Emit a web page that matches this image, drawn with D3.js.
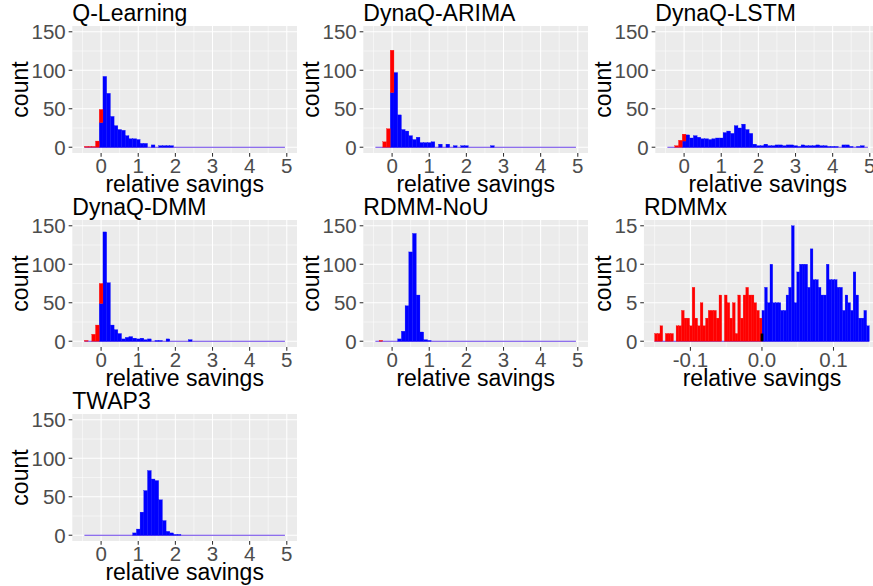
<!DOCTYPE html>
<html><head><meta charset="utf-8">
<script src="https://cdn.jsdelivr.net/npm/d3@7"></script>
<style>body{margin:0;background:#fff} svg{display:block}</style>
</head><body>
<svg id="c" width="873" height="586"></svg>
<script>
// ---------- data ----------
const titles = ["Q-Learning","DynaQ-ARIMA","DynaQ-LSTM","DynaQ-DMM","RDMM-NoU","RDMMx","TWAP3"];
const xLabel = "relative savings";
const yLabel = "count";

// bins of width 0.1, first bin centred at -0.4 (k = -4 .. 49)
const binWidthMain = 0.1;
const binStartMain = -0.45;
const qlBlue = [0,0,0,0,32,92,70,40,28,23,22,15,11,11,10,5,5,0,3,0,2,2,2,2,0,0,0,0,0,0,0,0,0,0,0,0,0,0,0,0,0,0,0,0,0,0,0,0,0,0,0,0,0,0];
const qlRed  = [1,1,1,8,17];
const arimaBlue = [0,0,0,0,71,97,42,23,21,15,10,13,6,6,6,7,0,4,0,4,0,2,0,2,2,0,0,0,0,0,0,2,0,0,0,0,0,0,0,0,0,0,0,0,0,0,0,0,0,0,0,0,0,0];
const arimaRed  = [0,0,7,24,55];
const lstmBlue = [0,0,0,0,8,16,12,15,13,11,11,10,11,12,12,19,21,18,28,25,30,23,18,4,2,2,4,2,2,3,3,2,3,3,2,1,3,2,2,2,3,2,2,1,1,1,0,3,3,1,0,1,2,0];
const lstmRed  = [0,0,2,9,9];
const dmmBlue = [0,0,0,0,49,142,76,21,15,10,3,5,6,4,3,4,2,3,0,1,1,0,3,0,0,0,0,0,2,0,0,0,0,0,0,0,0,0,0,0,0,0,0,0,0,0,0,0,0,0,0,0,0,0];
const dmmRed  = [1,0,9,21,26];
const nouBlue = [0,0,0,0,0,0,3,13,46,116,140,60,12,2,1,0,0,0,0,0,0,0,0,0,0,0,0,0,0,0,0,0,0,0,0,0,0,0,0,0,0,0,0,0,0,0,0,0,0,0,0,0,0,0];
const nouRed  = [0,1];
const twapBlue = [0,0,0,0,0,0,0,0,0,0,0,0,0,3,8,30,58,84,73,71,46,19,5,3,1,1,0,0,0,0,0,0,0,0,0,0,0,0,0,0,0,0,0,0,0,0,0,0,0,0,0,0,0,0];
const twapRed  = [];

// RDMMx: narrow bins, negatives red, positives blue, one exact-zero value black
const rdmmxBinWidth = 0.00375;
const rdmmxRedStart = -0.15;
const rdmmxBlueStart = 0;
const rdmmxRed  = [1,1,2,0,1,1,1,0,2,2,4,3,3,2,7,3,2,5,2,3,4,4,4,3,6,0,6,5,3,5,1,6,3,6,7,6,6,5,4,3];
const rdmmxBlue = [4,7,5,10,5,5,5,4,4,6,7,15,5,9,10,10,10,7,12,8,8,7,6,6,10,8,8,8,7,7,4,6,5,4,9,6,3,3,4,2];
const rdmmxZeroX = [0];
const rdmmxZeroCount = [1];

const xLimMain = [-0.5, 5], yLimMain = [0, 150];
const xLimR = [-0.15, 0.15], yLimR = [0, 15];
const xTicksMain = [0,1,2,3,4,5], yTicksMain = [0,50,100,150];
const xTicksR = [-0.1, 0.0, 0.1], xTickLabelsR = ["-0.1","0.0","0.1"], yTicksR = [0,5,10,15];

// ---------- layout ----------
const rowTop = [26, 220, 414];
const panelH = 127;
const colLeft = [0, 291, 583];
const panelRightOff = 297;
const FONT = "'Liberation Sans', Arial, Helvetica, sans-serif";
const tickFont = 20.5, titleFont = 23;

const panels = [
  {t:0, r:0, c:0, blue:qlBlue, red:qlRed, bs:binStartMain, rs:binStartMain, w:binWidthMain},
  {t:1, r:0, c:1, blue:arimaBlue, red:arimaRed, bs:binStartMain, rs:binStartMain, w:binWidthMain},
  {t:2, r:0, c:2, blue:lstmBlue, red:lstmRed, bs:binStartMain, rs:binStartMain, w:binWidthMain},
  {t:3, r:1, c:0, blue:dmmBlue, red:dmmRed, bs:binStartMain, rs:binStartMain, w:binWidthMain},
  {t:4, r:1, c:1, blue:nouBlue, red:nouRed, bs:binStartMain, rs:binStartMain, w:binWidthMain},
  {t:5, r:1, c:2, blue:rdmmxBlue, red:rdmmxRed, bs:rdmmxBlueStart, rs:rdmmxRedStart, w:rdmmxBinWidth, rdmmx:true},
  {t:6, r:2, c:0, blue:twapBlue, red:twapRed, bs:binStartMain, rs:binStartMain, w:binWidthMain},
];

const svg = d3.select("#c");
svg.append("rect").attr("width",873).attr("height",586).attr("fill","#fff");

function measure(txt, size){
  const t = svg.append("text").attr("font-family",FONT).attr("font-size",size).text(txt);
  const w = t.node().getComputedTextLength(); t.remove(); return w;
}
function expand(lim){ const d=(lim[1]-lim[0])*0.05; return [lim[0]-d, lim[1]+d]; }
function minorOf(ticks, dom){
  const step = ticks[1]-ticks[0]; const out=[];
  const ext = [ticks[0]-step, ...ticks, ticks[ticks.length-1]+step];
  for(let i=0;i<ext.length-1;i++){ const m=(ext[i]+ext[i+1])/2; if(m>=dom[0]&&m<=dom[1]) out.push(m); }
  return out;
}

panels.forEach(p=>{
  const isR = !!p.rdmmx;
  const xLim = isR?xLimR:xLimMain, yLim = isR?yLimR:yLimMain;
  const xT = isR?xTicksR:xTicksMain, yT = isR?yTicksR:yTicksMain;
  const xTL = isR?xTickLabelsR:xTicksMain.map(String);
  const yTL = yT.map(String);
  const cl = colLeft[p.c];
  const labW = d3.max(yTL, s=>measure(s, tickFont));
  const left = cl + 31.5 + labW + 6.6;
  const right = cl + panelRightOff;
  const top = rowTop[p.r], bottom = top + panelH;
  const xd = expand(xLim), yd = expand(yLim);
  const x = d3.scaleLinear().domain(xd).range([left,right]);
  const y = d3.scaleLinear().domain(yd).range([bottom,top]);
  const g = svg.append("g");

  g.append("rect").attr("x",left).attr("y",top).attr("width",right-left).attr("height",panelH).attr("fill","#EBEBEB");
  // minor grid
  minorOf(xT,xd).forEach(v=>g.append("line").attr("x1",x(v)).attr("x2",x(v)).attr("y1",top).attr("y2",bottom).attr("stroke","#fff").attr("stroke-width",0.53));
  minorOf(yT,yd).forEach(v=>g.append("line").attr("y1",y(v)).attr("y2",y(v)).attr("x1",left).attr("x2",right).attr("stroke","#fff").attr("stroke-width",0.53));
  xT.forEach(v=>g.append("line").attr("x1",x(v)).attr("x2",x(v)).attr("y1",top).attr("y2",bottom).attr("stroke","#fff").attr("stroke-width",1.07));
  yT.forEach(v=>g.append("line").attr("y1",y(v)).attr("y2",y(v)).attr("x1",left).attr("x2",right).attr("stroke","#fff").attr("stroke-width",1.07));

  // zero baseline of histogram
  const x0 = Math.min(p.bs, p.rs);
  const x1 = Math.max(p.bs + p.blue.length*p.w, p.rs + p.red.length*p.w);
  const spanEnd = isR ? x1 : p.bs + p.blue.length*p.w;
  g.append("path").attr("d", d3.line()([[x(x0),y(0)],[x(spanEnd),y(0)]]))
    .attr("stroke","#6a40e8").attr("stroke-width",1.1).attr("fill","none");

  // blue bars
  p.blue.forEach((v,i)=>{
    if(!v) return;
    const a = p.bs + i*p.w, b = a + p.w;
    g.append("rect").attr("x",x(a)).attr("width",x(b)-x(a)).attr("y",y(v)).attr("height",y(0)-y(v))
      .attr("fill","#0000FF").attr("stroke","#0000FF").attr("stroke-width",0.3);
  });
  // red bars (stacked on blue where bins coincide)
  p.red.forEach((v,i)=>{
    if(!v) return;
    const a = p.rs + i*p.w, b = a + p.w;
    const base = (p.rs===p.bs) ? (p.blue[i]||0) : 0;
    g.append("rect").attr("x",x(a)).attr("width",x(b)-x(a)).attr("y",y(base+v)).attr("height",y(base)-y(base+v))
      .attr("fill","#FF0000").attr("stroke","#FF0000").attr("stroke-width",0.3);
  });
  if(isR){
    rdmmxZeroX.forEach((cx,i)=>{
      const a = cx - p.w/2, b = cx + p.w/2, v = rdmmxZeroCount[i];
      g.append("rect").attr("x",x(a)).attr("width",x(b)-x(a)).attr("y",y(v)).attr("height",y(0)-y(v)).attr("fill","#000");
    });
  }

  // ticks
  xT.forEach(v=>g.append("line").attr("x1",x(v)).attr("x2",x(v)).attr("y1",bottom).attr("y2",bottom+3.67).attr("stroke","#333").attr("stroke-width",1.07));
  yT.forEach(v=>g.append("line").attr("y1",y(v)).attr("y2",y(v)).attr("x1",left-3.67).attr("x2",left).attr("stroke","#333").attr("stroke-width",1.07));
  xT.forEach((v,i)=>g.append("text").attr("x",x(v)).attr("y",bottom+20).attr("text-anchor","middle")
    .attr("font-family",FONT).attr("font-size",tickFont).attr("fill","#4D4D4D").text(xTL[i]));
  yT.forEach((v,i)=>g.append("text").attr("x",left-6.6).attr("y",y(v)).attr("dy","0.36em").attr("text-anchor","end")
    .attr("font-family",FONT).attr("font-size",tickFont).attr("fill","#4D4D4D").text(yTL[i]));

  // titles
  g.append("text").attr("x",left).attr("y",top-5).attr("font-family",FONT).attr("font-size",titleFont).attr("fill","#000").text(titles[p.t]);
  g.append("text").attr("x",(left+right)/2).attr("y",bottom+38.5).attr("text-anchor","middle")
    .attr("font-family",FONT).attr("font-size",titleFont).attr("fill","#000").text(xLabel);
  g.append("text").attr("transform",`translate(${cl+28},${(top+bottom)/2}) rotate(-90)`).attr("text-anchor","middle")
    .attr("font-family",FONT).attr("font-size",titleFont).attr("fill","#000").text(yLabel);
});
</script>
</body></html>
